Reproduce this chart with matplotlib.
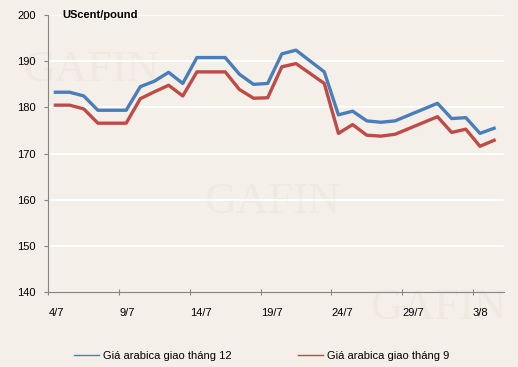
import matplotlib
matplotlib.use("Agg")
import matplotlib.pyplot as plt
import pandas as pd

# data (USc/lb)
dates = ['4/7', '5/7', '6/7', '7/7', '9/7', '10/7', '11/7', '12/7', '13/7', '14/7',
         '16/7', '17/7', '18/7', '19/7', '20/7', '21/7', '23/7', '24/7', '25/7', '26/7',
         '27/7', '28/7', '31/7', '1/8', '2/8', '3/8', '4/8']
dec = [183.3, 183.3, 182.5, 179.4, 179.4, 184.5, 185.7, 187.6, 185.2, 190.8,
       190.8, 187.2, 185.0, 185.2, 191.6, 192.4, 187.7, 178.4, 179.2, 177.1,
       176.8, 177.1, 180.9, 177.6, 177.8, 174.4, 175.5]
sep = [180.5, 180.5, 179.7, 176.6, 176.6, 181.9, 183.4, 184.8, 182.5, 187.7,
       187.7, 183.9, 182.0, 182.1, 188.8, 189.5, 185.2, 174.4, 176.3, 174.0,
       173.8, 174.2, 178.0, 174.6, 175.3, 171.6, 172.9]
labels = ['Giá arabica giao tháng 12', 'Giá arabica giao tháng 9']

bg = '#f4efe8'
plt.rcParams['font.family'] = ['Liberation Sans', 'DejaVu Sans']

x = pd.to_datetime([d + '/2011' for d in dates], format='%d/%m/%Y') + pd.Timedelta(hours=12)
start = pd.Timestamp('2011-07-04')

fig = plt.figure(figsize=(5.18, 3.67), dpi=100, facecolor=bg)
ax = fig.add_axes([0.0933, 0.2035, 0.8797, 0.7555], facecolor=bg)

# faint watermarks (behind the grid)
for wx, wy in [(0.045, 0.78), (0.395, 0.42), (0.715, 0.13)]:
    ax.text(wx, wy, 'GAFIN', fontsize=32, color='#efe9e1', family='Liberation Serif',
            transform=fig.transFigure, zorder=0.5, clip_on=False)

for v in [150, 160, 170, 180, 190, 200]:
    ax.axhline(v, color='white', lw=1.3, zorder=1)

ax.plot(x, dec, color='#4a7ebb', lw=2.4, label=labels[0], zorder=3)
ax.plot(x, sep, color='#be4b48', lw=2.4, label=labels[1], zorder=3)

ax.set_ylim(140, 200)
ax.set_yticks(range(140, 201, 10))
ax.set_xlim(start, start + pd.Timedelta(days=32.2))
ticks = [start + pd.Timedelta(days=5 * i) for i in range(7)]
ax.set_xticks(ticks)
ax.set_xticklabels([f'{t.day}/{t.month}' for t in ticks], ha='left')

for s in ['top', 'right']:
    ax.spines[s].set_visible(False)
for s in ['left', 'bottom']:
    ax.spines[s].set_color('#868686')
ax.tick_params(axis='y', length=3, color='#868686', labelsize=8, pad=6)
ax.tick_params(axis='x', length=4, color='#868686', labelsize=8, pad=9, direction='inout')

ax.text(0.03, 1.0, 'UScent/pound', transform=ax.transAxes, fontsize=8,
        fontweight='bold', va='center', ha='left')

leg = fig.legend(loc='center', bbox_to_anchor=(0.505, 0.03), ncol=2, frameon=False,
                 fontsize=8, handlelength=2.2, columnspacing=6.0, handletextpad=0.36)
for h in leg.legend_handles:
    h.set_linewidth(1)

fig.savefig('out.png', dpi=100, facecolor=bg)
